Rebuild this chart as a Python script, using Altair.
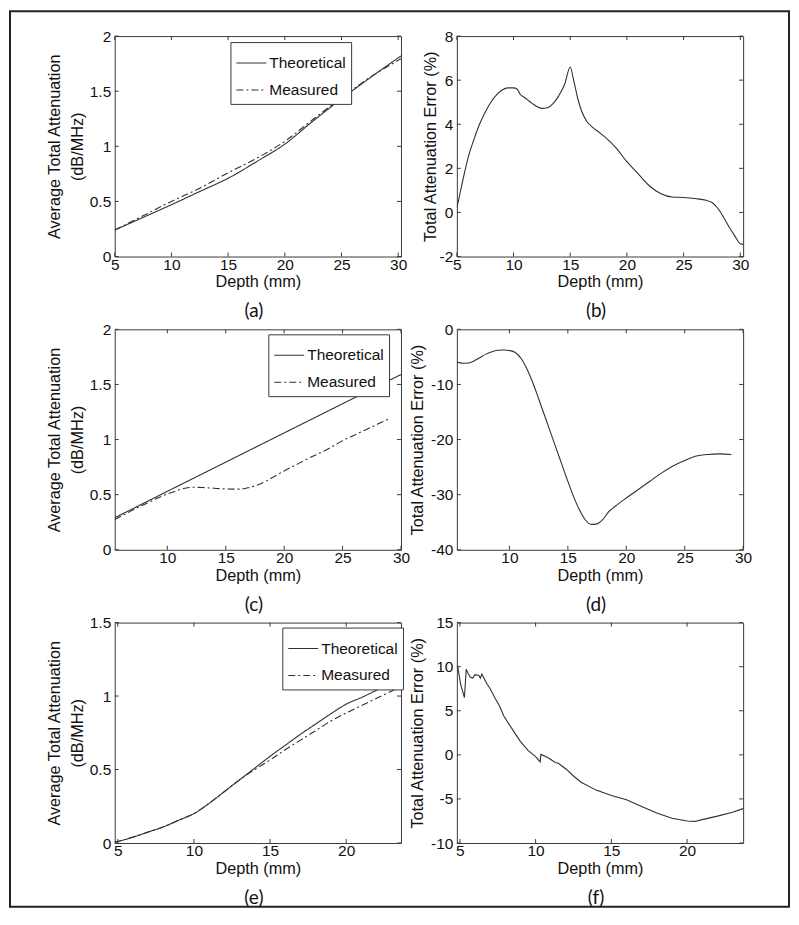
import altair as alt
import pandas as pd

# ---------------- data ----------------
# (a)
a_depth = [5, 7.5, 10, 12.5, 15, 17.5, 20, 22.5, 25, 27.5, 30.25]
a_theo = [0.24, 0.355, 0.47, 0.59, 0.71, 0.86, 1.02, 1.23, 1.43, 1.62, 1.82]
a_meas = [0.24, 0.37, 0.50, 0.62, 0.76, 0.89, 1.045, 1.245, 1.44, 1.625, 1.795]

# (b)
b_depth = [5, 5.5, 6, 6.5, 7, 7.5, 8, 8.5, 9, 9.5, 10, 10.3, 10.6, 11, 11.5, 12, 12.5,
           13, 13.5, 14, 14.5, 15, 15.3, 15.7, 16, 16.5, 17, 17.5, 18, 19, 20, 21, 22,
           23, 24, 25, 26, 27, 27.5, 28, 28.5, 29, 29.5, 30, 30.25]
b_err = [0.2, 1.4, 2.5, 3.3, 4.0, 4.55, 5.0, 5.33, 5.55, 5.65, 5.65, 5.6, 5.35, 5.2, 5.0,
         4.82, 4.72, 4.75, 4.95, 5.3, 5.8, 6.6, 6.0, 5.1, 4.6, 4.1, 3.85, 3.65, 3.45, 2.95,
         2.3, 1.75, 1.2, 0.85, 0.7, 0.68, 0.63, 0.55, 0.45, 0.2, -0.2, -0.65, -1.05, -1.42,
         -1.45]

# (c)
c_depth_t = [5.5, 10, 15, 20, 25, 30]
c_theo = [0.29, 0.53, 0.795, 1.06, 1.325, 1.59]
c_depth_m = [5.5, 6.5, 7.5, 8.5, 9.5, 10.5, 11.5, 12.2, 13, 14, 15, 16, 16.5, 17, 17.5,
             18, 19, 20, 21, 22, 23, 24, 25, 26, 27, 28, 29]
c_meas = [0.275, 0.33, 0.385, 0.435, 0.485, 0.525, 0.558, 0.567, 0.565, 0.558, 0.552,
          0.55, 0.553, 0.565, 0.58, 0.60, 0.655, 0.715, 0.77, 0.825, 0.875, 0.93, 0.99,
          1.04, 1.09, 1.14, 1.19]

# (d)
d_depth = [5.5, 6, 6.5, 7, 7.5, 8, 8.5, 9, 9.5, 10, 10.5, 11, 11.5, 12, 12.5, 13, 13.5,
           14, 14.5, 15, 15.5, 16, 16.5, 17, 17.5, 18, 18.5, 19, 20, 21, 22, 23, 24, 25,
           26, 27, 28, 29]
d_err = [-5.95, -6.15, -6.1, -5.7, -5.1, -4.5, -4.05, -3.8, -3.75, -3.85, -4.2, -5.3,
         -7.2, -9.7, -12.6, -15.6, -18.6, -21.6, -24.6, -27.6, -30.4, -32.8, -34.6,
         -35.4, -35.3, -34.5, -33.1, -32.2, -30.6, -29.1, -27.6, -26.1, -24.8, -23.8,
         -23.0, -22.7, -22.6, -22.7]

# (e)
e_depth = [4.8, 5, 6, 7, 8, 9, 10, 11, 12, 13, 14, 15, 16, 17, 18, 19, 20, 21, 22, 23, 23.6]
e_theo = [0.005, 0.01, 0.04, 0.075, 0.11, 0.155, 0.2, 0.27, 0.35, 0.43, 0.51, 0.59,
          0.665, 0.74, 0.81, 0.88, 0.945, 0.99, 1.04, 1.09, 1.125]
e_meas = [0.005, 0.01, 0.04, 0.075, 0.11, 0.155, 0.2, 0.27, 0.35, 0.43, 0.50, 0.565,
          0.635, 0.70, 0.765, 0.83, 0.885, 0.935, 0.985, 1.035, 1.065]

# (f)
f_depth = [4.85, 5.05, 5.3, 5.42, 5.55, 5.7, 5.85, 6.0, 6.25, 6.35, 6.45, 6.8, 7.0, 7.3,
           7.6, 7.9, 8.5, 9.0, 9.5, 10.0, 10.3, 10.35, 10.8, 11.2, 11.35, 11.5, 12.0,
           12.5, 13.0, 14.0, 15.0, 16.0, 17.0, 18.0, 19.0, 20.0, 20.5, 21.0, 22.0, 23.0,
           23.7]
f_err = [10.1, 8.0, 6.5, 9.7, 9.2, 8.8, 8.7, 9.1, 9.0, 8.7, 9.15, 8.0, 7.5, 6.5, 5.6, 4.4,
         2.8, 1.5, 0.5, -0.2, -0.8, 0.05, -0.3, -0.75, -0.9, -0.95, -1.6, -2.4, -3.1, -4.0,
         -4.6, -5.1, -5.85, -6.6, -7.2, -7.5, -7.55, -7.35, -6.95, -6.5, -6.1]

SERIES = ["Theoretical", "Measured"]
PANEL_LABELS = ["(a)", "(b)", "(c)", "(d)", "(e)", "(f)"]
DEPTH_TITLE = "Depth (mm)"
ATT_TITLE = ["Average Total Attenuation", "(dB/MHz)"]
ERR_TITLE = "Total Attenuation Error (%)"

# ---------------- styling ----------------
FONT = "Liberation Sans"
LINE = "#303030"
AX = "#3a3a3a"
TXT = "#111111"
W, H = 287, 221
TICK = 4
PLAIN = "toString(datum.value)"   # plain hyphen minus, as in the original


def panel(label, df, xdom, xticks, ydom, yticks, ytitle, ylabel_expr, title_pad,
          legend_xy=None, interp="monotone", extra=None):
    xscale = alt.Scale(domain=xdom, nice=False, zero=False)
    yscale = alt.Scale(domain=ydom, nice=False, zero=False)
    xaxis = alt.Axis(values=xticks, title=DEPTH_TITLE, labelExpr=PLAIN)
    yaxis = alt.Axis(values=yticks, title=ytitle, labelExpr=ylabel_expr,
                     titlePadding=title_pad)
    enc = dict(
        x=alt.X("depth:Q", scale=xscale, axis=xaxis),
        y=alt.Y("value:Q", scale=yscale, axis=yaxis),
    )
    if legend_xy is not None:
        enc["strokeDash"] = alt.StrokeDash(
            "series:N",
            scale=alt.Scale(domain=SERIES, range=[[1, 0], [7, 3, 2, 3]]),
            legend=alt.Legend(title=None, orient="none",
                              legendX=legend_xy[0], legendY=legend_xy[1]),
        )
    lines = alt.Chart(df).mark_line(color=LINE, strokeWidth=1.1,
                                    interpolate=interp, clip=True).encode(**enc)

    # inward MATLAB-style ticks on all four sides
    tx = pd.DataFrame({"depth": xticks})
    ty = pd.DataFrame({"value": yticks})
    bx = alt.Chart(tx).mark_rule(color=AX, strokeWidth=1)
    by = alt.Chart(ty).mark_rule(color=AX, strokeWidth=1)
    xe = alt.X("depth:Q", scale=xscale, axis=xaxis)
    ye = alt.Y("value:Q", scale=yscale, axis=yaxis)
    ticks = [
        bx.encode(x=xe, y=alt.value(H), y2=alt.value(H - TICK)),
        bx.encode(x=xe, y=alt.value(0), y2=alt.value(TICK)),
        by.encode(y=ye, x=alt.value(0), x2=alt.value(TICK)),
        by.encode(y=ye, x=alt.value(W - TICK), x2=alt.value(W)),
    ]
    lab = alt.Chart(pd.DataFrame({"label": [label]})).mark_text(
        font="Lato", fontSize=19, color=TXT, align="center", baseline="middle"
    ).encode(text="label:N", x=alt.value(W / 2 - 4), y=alt.value(H + 55))

    layers = [lines] + ticks + [lab]
    if extra is not None:
        layers.append(extra)
    return alt.layer(*layers).properties(width=W, height=H)


def two(depth_t, theo, depth_m, meas):
    return pd.concat([
        pd.DataFrame({"depth": depth_t, "value": theo, "series": SERIES[0]}),
        pd.DataFrame({"depth": depth_m, "value": meas, "series": SERIES[1]}),
    ], ignore_index=True)


def one(depth, err):
    return pd.DataFrame({"depth": depth, "value": err})


# outer frame of the figure (decoration, pixel offsets relative to panel (a))
frame = alt.Chart(pd.DataFrame({"k": [0]})).mark_rect(
    fillOpacity=0, stroke="#222222", strokeWidth=2
).encode(x=alt.value(-105), x2=alt.value(676), y=alt.value(-25), y2=alt.value(873))

pa = panel(PANEL_LABELS[0], two(a_depth, a_theo, a_depth, a_meas), [5, 30.25],
           [5, 10, 15, 20, 25, 30], [0, 2], [0, 0.5, 1, 1.5, 2], ATT_TITLE, PLAIN, 4,
           legend_xy=(116, 6), extra=frame)
pb = panel(PANEL_LABELS[1], one(b_depth, b_err), [5, 30.25], [5, 10, 15, 20, 25, 30],
           [-2, 8], [-2, 0, 2, 4, 6, 8], ERR_TITLE, PLAIN, 1)
pc = panel(PANEL_LABELS[2], two(c_depth_t, c_theo, c_depth_m, c_meas), [5.5, 30],
           [10, 15, 20, 25, 30], [0, 2], [0, 0.5, 1, 1.5, 2], ATT_TITLE, PLAIN, 4,
           legend_xy=(154, 5))
pd_ = panel(PANEL_LABELS[3], one(d_depth, d_err), [5.5, 30], [10, 15, 20, 25, 30],
            [-40, 0], [-40, -30, -20, -10, 0], ERR_TITLE, PLAIN, 5)
pe = panel(PANEL_LABELS[4], two(e_depth, e_theo, e_depth, e_meas), [4.8, 23.6],
           [5, 10, 15, 20], [0, 1.5], [0, 0.5, 1, 1.5], ATT_TITLE, PLAIN, 4,
           legend_xy=(168, 5))
pf = panel(PANEL_LABELS[5], one(f_depth, f_err), [4.8, 23.7], [5, 10, 15, 20],
           [-10, 15], [-10, -5, 0, 5, 10, 15], ERR_TITLE, PLAIN, 5, interp="linear")

chart = alt.concat(
    pa, pb, pc, pd_, pe, pf, columns=2,
    spacing={"row": 73, "column": 56}, bounds="flush",
).resolve_scale(strokeDash="independent").resolve_legend(strokeDash="independent").properties(
    padding=0, background="white"
).configure_view(
    stroke=AX, strokeWidth=1
).configure_axis(
    labelFont=FONT, labelFontSize=15.5, labelColor=TXT,
    titleFont=FONT, titleFontSize=16.3, titleFontWeight="normal", titleColor=TXT,
    ticks=False, domain=False, grid=False, labelFlush=False, labelOverlap=False,
    labelBound=False,
).configure_axisX(
    labelPadding=1, titlePadding=1,
).configure_axisY(
    labelPadding=4, titleLineHeight=23,
).configure_legend(
    strokeColor=AX, fillColor="white", padding=5, labelFont=FONT, labelFontSize=15.5,
    labelColor=TXT, symbolType="stroke", symbolStrokeWidth=1.1, symbolSize=900,
    symbolStrokeColor=LINE, labelOffset=2, rowPadding=2, cornerRadius=0,
)

chart.save("out.html", embed_options={"renderer": "svg", "actions": False})
